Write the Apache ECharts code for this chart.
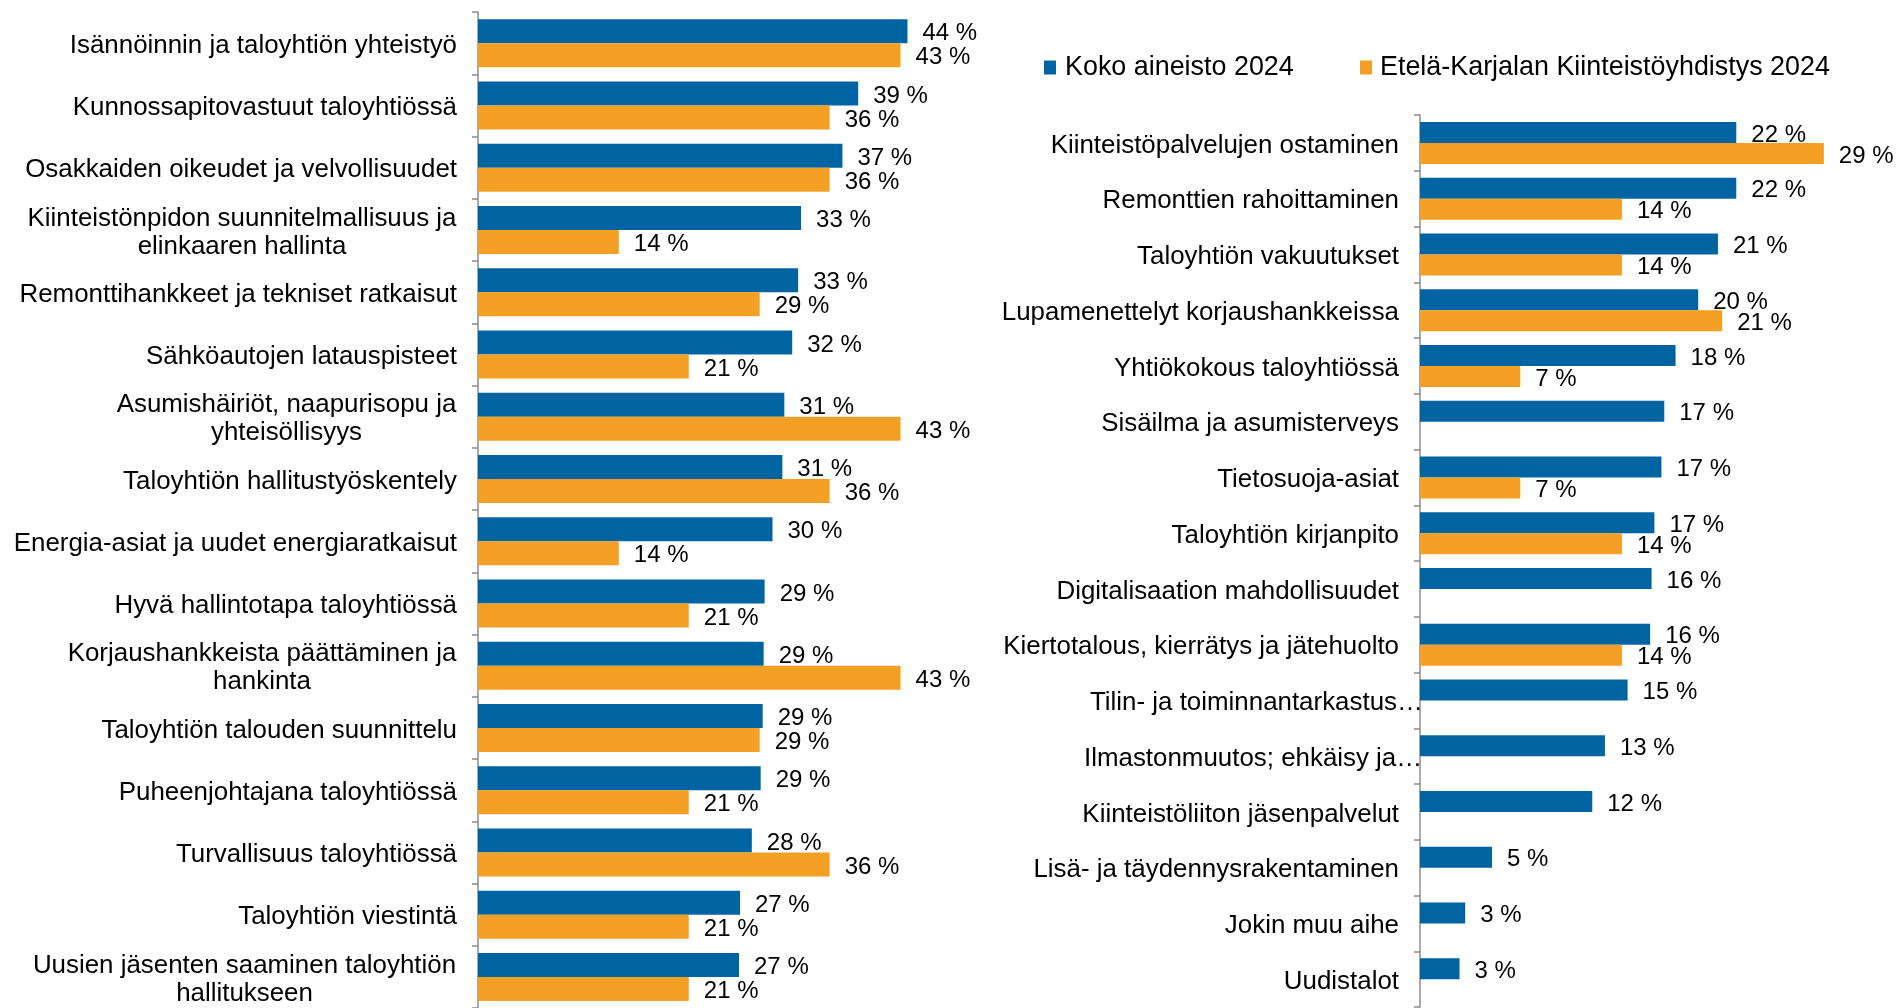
<!DOCTYPE html>
<html>
<head>
<meta charset="utf-8">
<script src="https://cdn.jsdelivr.net/npm/echarts@6/dist/echarts.min.js"></script>
<style>
html,body{margin:0;padding:0;background:#fff;}
#chart{width:1896px;height:1008px;}
</style>
</head>
<body>
<div id="chart"></div>
<script>
const seriesNames = ['Koko aineisto 2024', 'Etelä-Karjalan Kiinteistöyhdistys 2024'];

const leftCategories = [
  'Isännöinnin ja taloyhtiön yhteistyö',
  'Kunnossapitovastuut taloyhtiössä',
  'Osakkaiden oikeudet ja velvollisuudet',
  'Kiinteistönpidon suunnitelmallisuus ja\nelinkaaren hallinta',
  'Remonttihankkeet ja tekniset ratkaisut',
  'Sähköautojen latauspisteet',
  'Asumishäiriöt, naapurisopu ja\nyhteisöllisyys',
  'Taloyhtiön hallitustyöskentely',
  'Energia-asiat ja uudet energiaratkaisut',
  'Hyvä hallintotapa taloyhtiössä',
  'Korjaushankkeista päättäminen ja\nhankinta',
  'Taloyhtiön talouden suunnittelu',
  'Puheenjohtajana taloyhtiössä',
  'Turvallisuus taloyhtiössä',
  'Taloyhtiön viestintä',
  'Uusien jäsenten saaminen taloyhtiön\nhallitukseen'
];
const leftKoko = [43.6, 38.6, 37.0, 32.8, 32.5, 31.9, 31.1, 30.9, 29.9, 29.1, 29.0, 28.9, 28.7, 27.8, 26.6, 26.5];
const leftEk   = [42.9, 35.7, 35.7, 14.3, 28.6, 21.4, 42.9, 35.7, 14.3, 21.4, 42.9, 28.6, 21.4, 35.7, 21.4, 21.4];

const rightCategories = [
  'Kiinteistöpalvelujen ostaminen',
  'Remonttien rahoittaminen',
  'Taloyhtiön vakuutukset',
  'Lupamenettelyt korjaushankkeissa',
  'Yhtiökokous taloyhtiössä',
  'Sisäilma ja asumisterveys',
  'Tietosuoja-asiat',
  'Taloyhtiön kirjanpito',
  'Digitalisaation mahdollisuudet',
  'Kiertotalous, kierrätys ja jätehuolto',
  'Tilin- ja toiminnantarkastus…',
  'Ilmastonmuutos; ehkäisy ja…',
  'Kiinteistöliiton jäsenpalvelut',
  'Lisä- ja täydennysrakentaminen',
  'Jokin muu aihe',
  'Uudistalot'
];
const rightKoko = [22.4, 22.4, 21.1, 19.7, 18.1, 17.3, 17.1, 16.6, 16.4, 16.3, 14.7, 13.1, 12.2, 5.1, 3.2, 2.8];
const rightEk   = [28.6, 14.3, 14.3, 21.4, 7.1, null, 7.1, 14.3, null, 14.3, null, null, null, null, null, null];

const FONT = '"Liberation Sans", Arial, sans-serif';
const CAT_FS = 25.9;
const LBL_FS = 24;
const LEG_FS = 26.9;
const BLUE = '#0064a2';
const ORANGE = '#f4a024';
const AXIS_GRAY = '#8c8c8c';

const cvs = document.createElement('canvas');
const ctx = cvs.getContext('2d');
function textWidth(t) {
  ctx.font = CAT_FS + 'px ' + FONT;
  return ctx.measureText(t).width;
}
function makeAxisLabel(categories, prefix) {
  const rich = {};
  const base = { fontSize: CAT_FS, fontFamily: FONT, color: '#000', lineHeight: 28 };
  categories.forEach((c, i) => {
    const lines = c.split('\n');
    if (lines.length > 1) {
      const w = Math.max(...lines.map(textWidth));
      rich[prefix + i] = Object.assign({ width: Math.ceil(w) + 1, align: 'center' }, base);
    } else if (c.endsWith('…')) {
      // truncated labels overhang the axis like in the original
      rich[prefix + i] = Object.assign({ width: Math.ceil(textWidth(c)) - 24, align: 'left' }, base);
    }
  });
  return {
    margin: 21,
    fontSize: CAT_FS,
    fontFamily: FONT,
    color: '#000',
    lineHeight: 28,
    padding: [5, 0, 0, 0],
    rich: rich,
    formatter: function (value, index) {
      const s = String(value);
      if (rich[prefix + index]) {
        return s.split('\n').map(l => '{' + prefix + index + '|' + l + '}').join('\n');
      }
      return s;
    }
  };
}

function yAxis(gridIndex, categories, prefix) {
  return {
    type: 'category',
    gridIndex: gridIndex,
    data: categories,
    inverse: true,
    axisLine: { show: true, lineStyle: { color: AXIS_GRAY, width: 1.5 } },
    axisTick: { show: true, length: 6, lineStyle: { color: AXIS_GRAY, width: 1.5 } },
    splitLine: { show: false },
    axisLabel: makeAxisLabel(categories, prefix)
  };
}
function xAxis(gridIndex, max) {
  return {
    type: 'value', gridIndex: gridIndex, min: 0, max: max,
    show: false, splitLine: { show: false }
  };
}
const labelStyle = {
  show: true,
  position: 'right',
  distance: 15,
  offset: [0, 2.5],
  fontSize: LBL_FS,
  fontFamily: FONT,
  color: '#000',
  formatter: p => Math.round(p.value) + ' %'
};
function bar(name, idx, data, color, width) {
  return {
    name: name, type: 'bar',
    xAxisIndex: idx, yAxisIndex: idx,
    data: data,
    barWidth: width, barGap: '0%',
    itemStyle: { color: color },
    label: labelStyle,
    emphasis: { disabled: true },
    animation: false
  };
}

const chart = echarts.init(document.getElementById('chart'));
chart.setOption({
  backgroundColor: '#fff',
  animation: false,
  textStyle: { fontFamily: FONT },
  legend: [
    {
      data: [seriesNames[0]], left: 1044, top: 54, padding: 0,
      icon: 'rect', itemWidth: 12, itemHeight: 14,
      textStyle: { fontSize: LEG_FS, fontFamily: FONT, color: '#000', padding: [2, 0, 0, 4] },
      selectedMode: false
    },
    {
      data: [seriesNames[1]], left: 1360, top: 54, padding: 0,
      icon: 'rect', itemWidth: 12, itemHeight: 14,
      textStyle: { fontSize: LEG_FS, fontFamily: FONT, color: '#000', padding: [2, 0, 0, 3] },
      selectedMode: false
    }
  ],
  grid: [
    { left: 478, right: 925.5, top: 12, bottom: -3 },
    { left: 1420, right: 52.4, top: 115, bottom: 1 }
  ],
  xAxis: [xAxis(0, 50), xAxis(1, 30)],
  yAxis: [yAxis(0, leftCategories, 'l'), yAxis(1, rightCategories, 'r')],
  series: [
    bar(seriesNames[0], 0, leftKoko, BLUE, 24),
    bar(seriesNames[1], 0, leftEk, ORANGE, 24),
    bar(seriesNames[0], 1, rightKoko, BLUE, 21),
    bar(seriesNames[1], 1, rightEk, ORANGE, 21)
  ]
});
</script>
</body>
</html>
